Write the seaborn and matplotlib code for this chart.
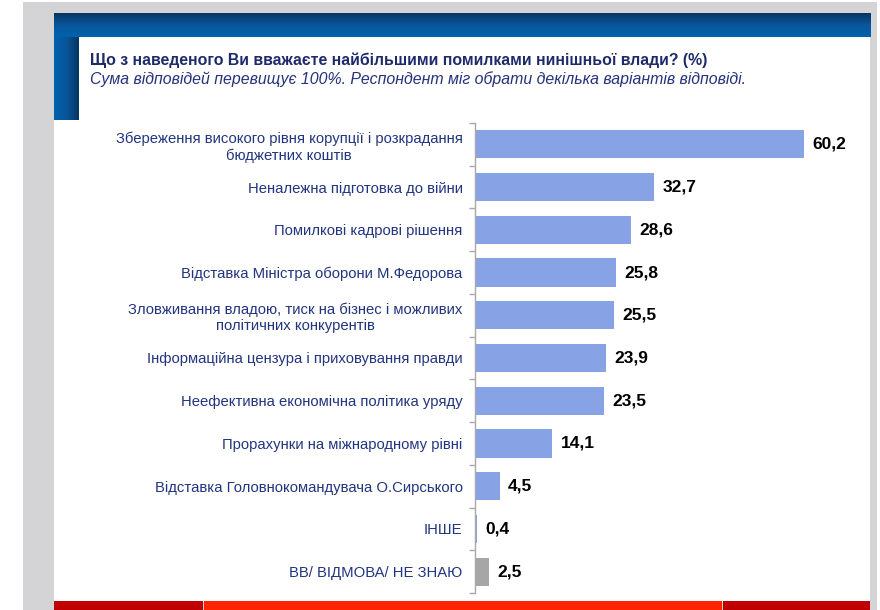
import numpy as np
import matplotlib
matplotlib.use("Agg")
import matplotlib.pyplot as plt
from matplotlib.patches import Rectangle
from matplotlib.colors import LinearSegmentedColormap
import seaborn as sns

# data
categories = [
    "Збереження високого рівня корупції і розкрадання\nбюджетних коштів",
    "Неналежна підготовка до війни",
    "Помилкові кадрові рішення",
    "Відставка Міністра оборони М.Федорова",
    "Зловживання владою, тиск на бізнес і можливих\nполітичних конкурентів",
    "Інформаційна цензура і приховування правди",
    "Неефективна економічна політика уряду",
    "Прорахунки на міжнародному рівні",
    "Відставка Головнокомандувача О.Сирського",
    "ІНШЕ",
    "ВВ/ ВІДМОВА/ НЕ ЗНАЮ",
]
values = [60.2, 32.7, 28.6, 25.8, 25.5, 23.9, 23.5, 14.1, 4.5, 0.4, 2.5]
value_labels = ["60,2", "32,7", "28,6", "25,8", "25,5", "23,9", "23,5", "14,1", "4,5", "0,4", "2,5"]

title = "Що з наведеного Ви вважаєте найбільшими помилками нинішньої влади? (%)"
subtitle = "Сума відповідей перевищує 100%. Респондент міг обрати декілька варіантів відповіді."

sns.set_style("white")
plt.rcParams["font.family"] = ["Liberation Sans", "DejaVu Sans"]

W, H = 880, 610
fig = plt.figure(figsize=(8.8, 6.1), dpi=100)
fig.patch.set_facecolor("white")


def px_rect(x0, y0, x1, y1, color):
    # pixel box measured from top-left, kept behind the axes
    fig.patches.append(Rectangle((x0 / W, 1 - y1 / H), (x1 - x0) / W, (y1 - y0) / H,
                                 transform=fig.transFigure, facecolor=color,
                                 edgecolor="none", zorder=-10))


def px_axes(x0, y0, x1, y1):
    return fig.add_axes([x0 / W, 1 - y1 / H, (x1 - x0) / W, (y1 - y0) / H])


# frame around the slide
px_rect(23, 2, 877, 610, "#d4d4d6")
px_rect(54, 13, 870, 602, "white")
px_rect(54, 601, 203, 610, "#c00000")
px_rect(204, 601, 722, 610, "#ff2400")
px_rect(723, 601, 870, 610, "#c00000")

blue = LinearSegmentedColormap.from_list("blue", ["#063562", "#0a569b", "#0062ac"])
top_ax = px_axes(54, 13, 870, 37)
top_ax.imshow(np.linspace(0, 1, 50).reshape(-1, 1), aspect="auto", cmap=blue)
top_ax.axis("off")
left_ax = px_axes(54, 37, 78, 120)
left_ax.imshow(np.linspace(1, 0, 50).reshape(1, -1), aspect="auto", cmap=blue)
left_ax.axis("off")

fig.text(90 / W, 1 - 60 / H, title, fontsize=11.4, fontweight="bold",
         color="#1f2a6b", va="center", ha="left")
fig.text(90 / W, 1 - 79 / H, subtitle, fontsize=11.4, fontstyle="italic",
         color="#25327a", va="center", ha="left")

# bar chart
ax = px_axes(475, 123, 862, 593)
ax.patch.set_alpha(0)
palette = {c: "#87a3e6" for c in categories}
palette[categories[-1]] = "#a6a6a6"
sns.barplot(x=values, y=categories, hue=categories, palette=palette, width=0.66,
            orient="h", legend=False, linewidth=0, saturation=1, ax=ax)

ax.set_xlim(0, 387 / 5.47)
ax.set_ylim(10.5, -0.5)
ax.set_xlabel("")
ax.set_ylabel("")
ax.set_xticks([])
for s in ["top", "right", "bottom"]:
    ax.spines[s].set_visible(False)
ax.spines["left"].set_color("#a8a8b0")
ax.spines["left"].set_linewidth(1)

ax.set_yticks(range(len(categories)))
ax.set_yticklabels(categories)
ax.set_yticks(np.arange(-0.5, len(categories), 1), minor=True)
ax.tick_params(axis="y", which="major", length=0, pad=9, labelsize=10.7, labelcolor="#22357f")
ax.tick_params(axis="y", which="minor", length=4, width=1, color="#a8a8b0", left=True)
for lab in ax.get_yticklabels():
    lab.set_multialignment("center")

# one container per hue level -> one label each
for cont, lab in zip(ax.containers, value_labels):
    ax.bar_label(cont, labels=[lab], padding=6, fontsize=12.5, fontweight="bold", color="black")

fig.savefig("out.png", dpi=100)
